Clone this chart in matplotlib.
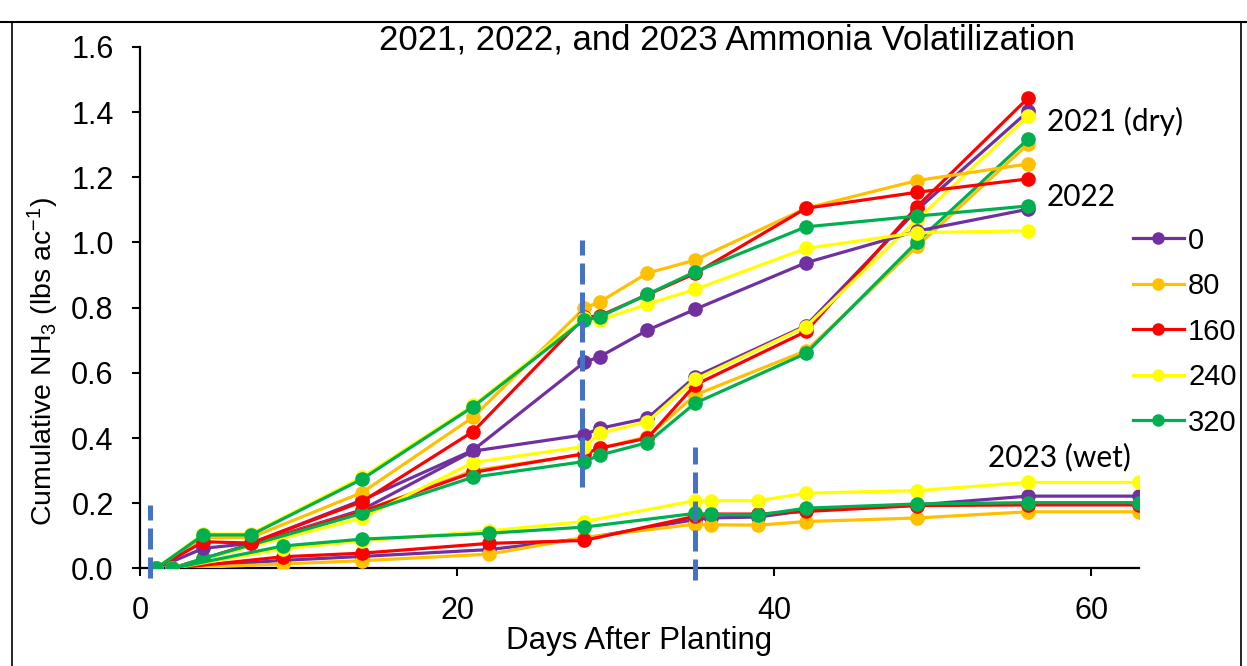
import matplotlib
matplotlib.use("Agg")
import matplotlib.pyplot as plt
from matplotlib.lines import Line2D

plt.rcParams['font.family'] = ['Liberation Sans', 'DejaVu Sans']
plt.rcParams['mathtext.default'] = 'regular'

# rates (legend) and colours
rates = ['0', '80', '160', '240', '320']
colors = ['#7030A0', '#FFC000', '#FF0000', '#FFFF00', '#00B050']

# 2021 (dry)
days_2021 = [2, 4, 14, 21, 28, 29, 32, 35, 42, 49, 56]
vals_2021 = [
    [0, 0.030, 0.180, 0.360, 0.410, 0.430, 0.461, 0.588, 0.745, 1.100, 1.402],
    [0, 0.030, 0.175, 0.300, 0.350, 0.369, 0.404, 0.532, 0.668, 0.988, 1.302],
    [0, 0.030, 0.175, 0.295, 0.352, 0.369, 0.400, 0.563, 0.727, 1.110, 1.443],
    [0, 0.030, 0.155, 0.325, 0.374, 0.415, 0.450, 0.580, 0.742, 1.070, 1.388],
    [0, 0.031, 0.169, 0.280, 0.328, 0.348, 0.386, 0.507, 0.660, 1.002, 1.317],
]

# 2022
days_2022 = [1, 4, 7, 14, 21, 28, 29, 32, 35, 42, 49, 56]
vals_2022 = [
    [0, 0.062, 0.077, 0.210, 0.363, 0.632, 0.650, 0.731, 0.795, 0.938, 1.035, 1.102],
    [0, 0.095, 0.095, 0.233, 0.464, 0.798, 0.818, 0.906, 0.946, 1.105, 1.190, 1.241],
    [0, 0.082, 0.078, 0.205, 0.420, 0.770, 0.775, 0.840, 0.905, 1.105, 1.154, 1.195],
    [0, 0.106, 0.106, 0.280, 0.500, 0.768, 0.762, 0.811, 0.856, 0.982, 1.030, 1.036],
    [0, 0.103, 0.103, 0.274, 0.496, 0.762, 0.772, 0.841, 0.910, 1.048, 1.081, 1.112],
]

# 2023 (wet)
days_2023 = [2, 9, 14, 22, 28, 35, 36, 39, 42, 49, 56, 63]
vals_2023 = [
    [0, 0.025, 0.037, 0.058, 0.092, 0.150, 0.155, 0.158, 0.178, 0.195, 0.222, 0.222],
    [0, 0.014, 0.024, 0.044, 0.095, 0.136, 0.134, 0.133, 0.144, 0.155, 0.174, 0.174],
    [0, 0.036, 0.047, 0.077, 0.086, 0.160, 0.167, 0.167, 0.175, 0.193, 0.195, 0.195],
    [0, 0.060, 0.085, 0.115, 0.144, 0.208, 0.208, 0.208, 0.231, 0.239, 0.264, 0.264],
    [0, 0.069, 0.090, 0.108, 0.127, 0.169, 0.166, 0.164, 0.185, 0.198, 0.202, 0.202],
]

# blue dashed event lines (day, bottom, top)
event_days = [0.63, 27.9, 35.0]
event_low = [-0.03, 0.25, -0.035]
event_high = [0.195, 1.007, 0.374]

fig = plt.figure(figsize=(12.47, 6.66), dpi=100)
ax = fig.add_axes([0.1123, 0.1464, 0.8011, 0.7832])

for days, vals in [(days_2021, vals_2021), (days_2022, vals_2022), (days_2023, vals_2023)]:
    for v, c in zip(vals, colors):
        ax.plot(days, v, color=c, lw=2.3, marker='o', ms=9.5, mec=c, mfc=c, zorder=3)

for d, lo, hi in zip(event_days, event_low, event_high):
    ln, = ax.plot([d, d], [lo, hi], color='#4472C4', lw=3.6, clip_on=False, zorder=4)
    ln.set_dashes((4.2, 1.6))

ax.set_xlim(0, 63)
ax.set_ylim(0, 1.6)
ax.set_xticks([0, 20, 40, 60])
ax.set_yticks([0, 0.2, 0.4, 0.6, 0.8, 1.0, 1.2, 1.4, 1.6])
ax.set_yticklabels(['%.1f' % t for t in ax.get_yticks()])
ax.tick_params(labelsize=22, length=6, width=1.5, direction='out')
ax.tick_params(axis='x', pad=14)
ax.tick_params(axis='y', pad=13)
for s in ['top', 'right']:
    ax.spines[s].set_visible(False)
for s in ['left', 'bottom']:
    ax.spines[s].set_linewidth(1.6)

ax.set_xlabel('Days After Planting', fontsize=22.5, labelpad=0)
ax.set_ylabel('Cumulative NH$_3$ (lbs ac$^{-1}$)', fontsize=20.5)
ax.yaxis.set_label_coords(-0.079, 0.396)

fig.text(727 / 1247, 1 - 40 / 666, '2021, 2022, and 2023 Ammonia Volatilization',
         fontsize=25, ha='center', va='center')

ax.text(57.2, 1.37, '2021 (dry)', fontsize=21.5, family=['Lato', 'DejaVu Sans'], va='center', clip_on=False)
ax.text(57.2, 1.14, '2022', fontsize=21.5, family=['Lato', 'DejaVu Sans'], va='center', clip_on=False)
ax.text(53.5, 0.342, '2023 (wet)', fontsize=21.5, family=['Lato', 'DejaVu Sans'], va='center', clip_on=False)

handles = [Line2D([0], [0], color=c, lw=2.3, marker='o', ms=8, mec=c, mfc=c) for c in colors]
leg = fig.legend(handles, rates, loc='upper left', bbox_to_anchor=(1118 / 1247, 1 - 212 / 666),
                 frameon=False, fontsize=21, handlelength=1.75, handletextpad=0.15,
                 labelspacing=0.6, borderpad=0)

# outer frame of the pasted figure
fig.add_artist(Line2D([0.0, 1.0], [1 - 22 / 666, 1 - 22 / 666], transform=fig.transFigure, color='black', lw=1.5))
fig.add_artist(Line2D([12 / 1247, 12 / 1247], [0, 1 - 22 / 666], transform=fig.transFigure, color='black', lw=1.2))
fig.add_artist(Line2D([1241 / 1247, 1241 / 1247], [0, 1 - 22 / 666], transform=fig.transFigure, color='black', lw=1.2))

fig.savefig('out.png', dpi=100)
